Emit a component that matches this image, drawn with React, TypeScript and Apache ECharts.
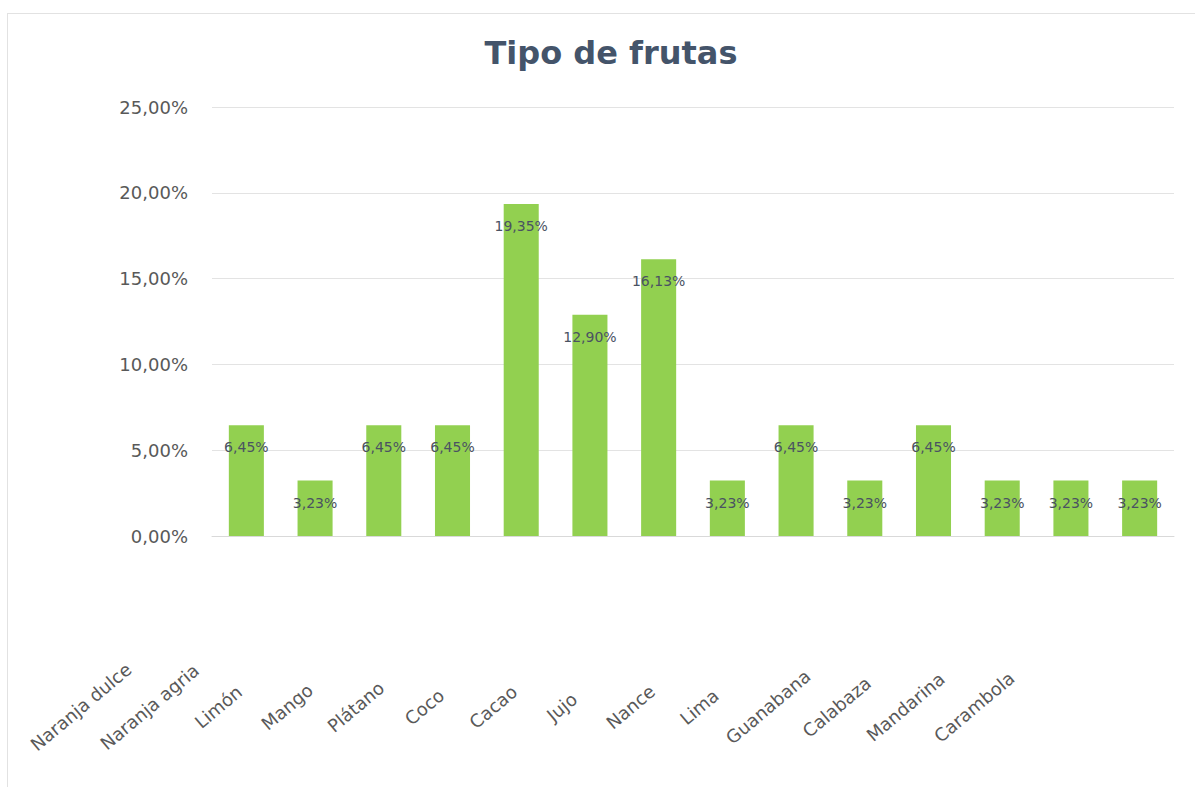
import React, { useEffect, useRef } from "react";
import * as echarts from "echarts";

const categories: string[] = [
  "Naranja dulce",
  "Naranja agria",
  "Limón",
  "Mango",
  "Plátano",
  "Coco",
  "Cacao",
  "Jujo",
  "Nance",
  "Lima",
  "Guanabana",
  "Calabaza",
  "Mandarina",
  "Carambola",
];

const percentages: number[] = [
  6.45, 3.23, 6.45, 6.45, 19.35, 12.9, 16.13, 3.23, 6.45, 3.23, 6.45, 3.23, 3.23, 3.23,
];

const yTicks: number[] = [0, 5, 10, 15, 20, 25];

const fmt = (v: number) => v.toFixed(2).replace(".", ",") + "%";

export default function App() {
  const ref = useRef<HTMLDivElement>(null);

  useEffect(() => {
    if (!ref.current) return;
    const chart = echarts.init(ref.current, undefined, { renderer: "svg" });
    chart.setOption({
      animation: false,
      backgroundColor: "#ffffff",
      title: {
        text: "Tipo de frutas",
        left: 606,
        textAlign: "center",
        top: 32,
        textStyle: {
          fontFamily: "DejaVu Sans",
          fontSize: 32,
          fontWeight: "bold",
          color: "#44546A",
        },
      },
      grid: {
        left: 212,
        right: 21,
        top: 107,
        bottom: 251,
        outerBoundsMode: "none",
        containLabel: false,
      },
      xAxis: {
        type: "category",
        data: categories,
        axisLine: { show: true, lineStyle: { color: "#d9d9d9", width: 1 } },
        axisTick: { show: false },
        axisLabel: {
          interval: 0,
          rotate: 40,
          align: "center",
          verticalAlign: "middle",
          margin: 32,
          padding: [0, 432, 0, 0],
          fontFamily: "DejaVu Sans",
          fontSize: 18,
          color: "#595959",
        },
      },
      yAxis: {
        type: "value",
        min: yTicks[0],
        max: yTicks[yTicks.length - 1],
        interval: 5,
        axisLine: { show: false },
        axisTick: { show: false },
        splitLine: { lineStyle: { color: "#e3e3e3", width: 1 } },
        axisLabel: {
          margin: 24,
          fontFamily: "DejaVu Sans",
          fontSize: 18,
          color: "#595959",
          formatter: (v: number) => fmt(v),
        },
      },
      series: [
        {
          type: "bar",
          data: percentages,
          barWidth: "51%",
          itemStyle: { color: "#92D050" },
          label: {
            show: true,
            position: "insideTop",
            distance: 15,
            fontFamily: "DejaVu Sans",
            fontSize: 14,
            color: "#4a5262",
            formatter: (p: any) => fmt(p.value),
          },
        },
      ],
    });
    return () => chart.dispose();
  }, []);

  return (
    <div style={{ position: "absolute", left: 0, top: 0, width: 1195, height: 787, background: "#fff" }}>
      <div ref={ref} style={{ position: "absolute", left: 0, top: 0, width: 1195, height: 787 }} />
      <div
        style={{
          position: "absolute",
          left: 7,
          top: 13,
          width: 1195,
          height: 787,
          borderLeft: "1px solid #e2e2e2",
          borderTop: "1px solid #e2e2e2",
          pointerEvents: "none",
        }}
      />
    </div>
  );
}
